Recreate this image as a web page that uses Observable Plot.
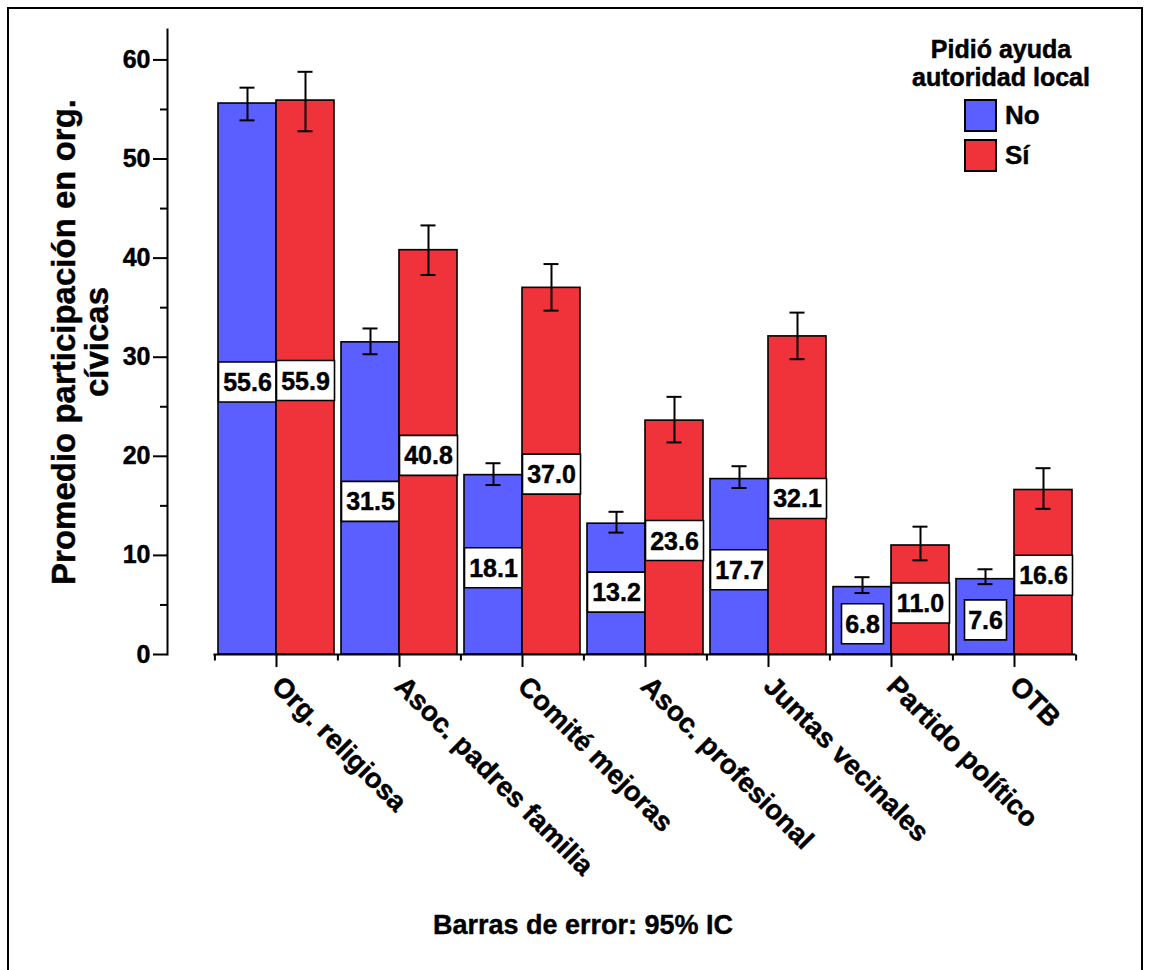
<!DOCTYPE html>
<html>
<head>
<meta charset="utf-8">
<script src="https://cdn.jsdelivr.net/npm/d3@7"></script>
<script src="https://cdn.jsdelivr.net/npm/@observablehq/plot@0.6"></script>
<style>
  body { margin: 0; background: #fff; font-family: "Liberation Sans", Arial, sans-serif; }
  #wrap { position: relative; width: 1150px; height: 970px; overflow: hidden; }
  #border { position: absolute; left: 7px; top: 7px; width: 1132px; height: 1000px; border: 2px solid #000; }
  #chart { position: absolute; left: 0; top: 0; }
  #chart svg text { stroke: #000; stroke-width: 0.45px; }
  .lg-title { position: absolute; left: 880px; top: 35px; width: 242px; text-align: center; font-weight: bold; font-size: 25px; line-height: 28px; -webkit-text-stroke: 0.5px #000; }
  .sw { position: absolute; left: 964px; width: 29px; height: 29px; border: 2px solid #000; }
  .lg-lab { position: absolute; left: 1005px; font-weight: bold; font-size: 26px; line-height: 33px; -webkit-text-stroke: 0.4px #000; }
  #caption { position: absolute; left: 383px; width: 400px; top: 909px; text-align: center; font-weight: bold; font-size: 27px; line-height: 32px; -webkit-text-stroke: 0.4px #000; }
</style>
</head>
<body>
<div id="wrap">
  <div id="border"></div>
  <div id="chart"></div>
  <div id="legend"></div>
  <div id="caption"></div>
</div>
<script>
// ---- data ----
const categories = ["Org. religiosa", "Asoc. padres familia", "Comité mejoras", "Asoc. profesional", "Juntas vecinales", "Partido político", "OTB"];
const groups = ["No", "Sí"];
const meanNo = [55.6, 31.5, 18.1, 13.2, 17.7, 6.8, 7.6];
const meanSi = [55.9, 40.8, 37.0, 23.6, 32.1, 11.0, 16.6];
const ciLowNo = [53.9, 30.3, 17.1, 12.3, 16.8, 6.2, 7.1];
const ciHighNo = [57.2, 32.9, 19.3, 14.4, 19.0, 7.8, 8.6];
const ciLowSi = [52.8, 38.3, 34.7, 21.4, 29.8, 9.5, 14.7];
const ciHighSi = [58.8, 43.3, 39.4, 26.0, 34.5, 12.9, 18.8];
const yTicks = [0, 10, 20, 30, 40, 50, 60];
const yMinorTicks = [5, 15, 25, 35, 45, 55];
const colors = ["#5b5fff", "#f0323a"];
const yTitle = "Promedio participación en org.\ncívicas";
const legendTitle = "Pidió ayuda\nautoridad local";
const captionText = "Barras de error: 95% IC";

// ---- table ----
const rowsNo = categories.map((c, i) => ({cat: c, grp: groups[0], mean: meanNo[i], lo: ciLowNo[i], hi: ciHighNo[i]}));
const rowsSi = categories.map((c, i) => ({cat: c, grp: groups[1], mean: meanSi[i], lo: ciLowSi[i], hi: ciHighSi[i]}));

// ---- layout constants (pixels) ----
const barW = 58;          // each bar's width
const half = barW / 2;    // offset of bar centre from band centre
const capW = 15;
const font = '"Liberation Sans", Arial, sans-serif';

// custom symbols
const boxSymbol = (w, h) => ({draw(ctx) { ctx.moveTo(-w / 2, -h / 2); ctx.lineTo(w / 2, -h / 2); ctx.lineTo(w / 2, h / 2); ctx.lineTo(-w / 2, h / 2); ctx.closePath(); }});
const minorTickSymbol = {draw(ctx) { ctx.moveTo(0, 0); ctx.lineTo(0, 6); }};
const wideBox = boxSymbol(58, 40);
const narrowBox = boxSymbol(42, 40);
const fmt = v => v.toFixed(1);

function seriesMarks(rows, side, color) {
  const dx = side * half;
  const barInset = side < 0 ? {insetRight: barW} : {insetLeft: barW};
  const capInset = side < 0
    ? {insetLeft: half - capW / 2, insetRight: barW + half - capW / 2}
    : {insetLeft: barW + half - capW / 2, insetRight: half - capW / 2};
  return [
    Plot.barY(rows, {x: "cat", y: "mean", fill: color, stroke: "#000", strokeWidth: 1.6, ...barInset}),
    Plot.dot(rows.filter(d => fmt(d.mean).length >= 4), {x: "cat", y: d => d.mean / 2, dx, dy: 3, symbol: wideBox, r: 10, fill: "#fff", stroke: "#000", strokeWidth: 1.6}),
    Plot.dot(rows.filter(d => fmt(d.mean).length < 4), {x: "cat", y: d => d.mean / 2, dx, dy: 3, symbol: narrowBox, r: 10, fill: "#fff", stroke: "#000", strokeWidth: 1.6}),
    Plot.text(rows, {x: "cat", y: d => d.mean / 2, text: d => fmt(d.mean), dx, dy: 4, fontSize: 25, fontWeight: "bold", fill: "#000"}),
    Plot.ruleX(rows, {x: "cat", y1: "lo", y2: "hi", dx, stroke: "#000", strokeWidth: 2}),
    Plot.tickY(rows, {x: "cat", y: "lo", stroke: "#000", strokeWidth: 2, ...capInset}),
    Plot.tickY(rows, {x: "cat", y: "hi", stroke: "#000", strokeWidth: 2, ...capInset})
  ];
}

const chart = Plot.plot({
  width: 1150,
  height: 900,
  marginLeft: 167,
  marginRight: 74.4,
  marginTop: 29,
  marginBottom: 246,
  style: {fontFamily: font, fontWeight: "bold", color: "#000", background: "transparent", overflow: "visible"},
  x: {type: "band", domain: categories, range: [213.4, 1075.6], paddingInner: 0.058, paddingOuter: 0.029, label: null},
  y: {domain: [0, 63.07], label: null},
  marks: [
    ...seriesMarks(rowsNo, -1, colors[0]),
    ...seriesMarks(rowsSi, 1, colors[1]),
    // x axis line
    Plot.ruleY([0], {insetLeft: 46.4, stroke: "#000", strokeWidth: 2}),
    // minor x ticks at band boundaries
    Plot.dot(categories, {x: d => d, y: () => 0, dx: -61.6, symbol: minorTickSymbol, r: 5, fill: "none", stroke: "#000", strokeWidth: 2}),
    Plot.dot(categories.slice(-1), {x: d => d, y: () => 0, dx: 61.6, symbol: minorTickSymbol, r: 5, fill: "none", stroke: "#000", strokeWidth: 2}),
    Plot.axisX({tickSize: 13, tickRotate: 45, tickPadding: 14, fontSize: 27.5, fontWeight: "bold", strokeWidth: 2, label: null}),
    // y axis
    Plot.frame({anchor: "left", stroke: "#000", strokeWidth: 2}),
    Plot.axisY(yTicks, {tickSize: 14, tickPadding: 3, fontSize: 25, fontWeight: "bold", strokeWidth: 2, label: null}),
    Plot.axisY(yMinorTicks, {tickSize: 7, tickFormat: () => "", strokeWidth: 2, label: null}),
    Plot.text([yTitle], {frameAnchor: "left", textAnchor: "middle", lineAnchor: "middle", dx: -87, rotate: -90, fontSize: 33, lineHeight: 1.0, fontWeight: "bold", fill: "#000"})
  ]
});
document.getElementById("chart").appendChild(chart);

// legend
const legend = document.getElementById("legend");
const lt = document.createElement("div");
lt.className = "lg-title";
lt.innerHTML = legendTitle.split("\n").join("<br>");
legend.appendChild(lt);
groups.forEach((g, i) => {
  const sw = document.createElement("div");
  sw.className = "sw";
  sw.style.top = (99 + i * 40) + "px";
  sw.style.background = colors[i];
  legend.appendChild(sw);
  const lab = document.createElement("div");
  lab.className = "lg-lab";
  lab.style.top = (99 + i * 40) + "px";
  lab.textContent = g;
  legend.appendChild(lab);
});
document.getElementById("caption").textContent = captionText;
</script>
</body>
</html>
